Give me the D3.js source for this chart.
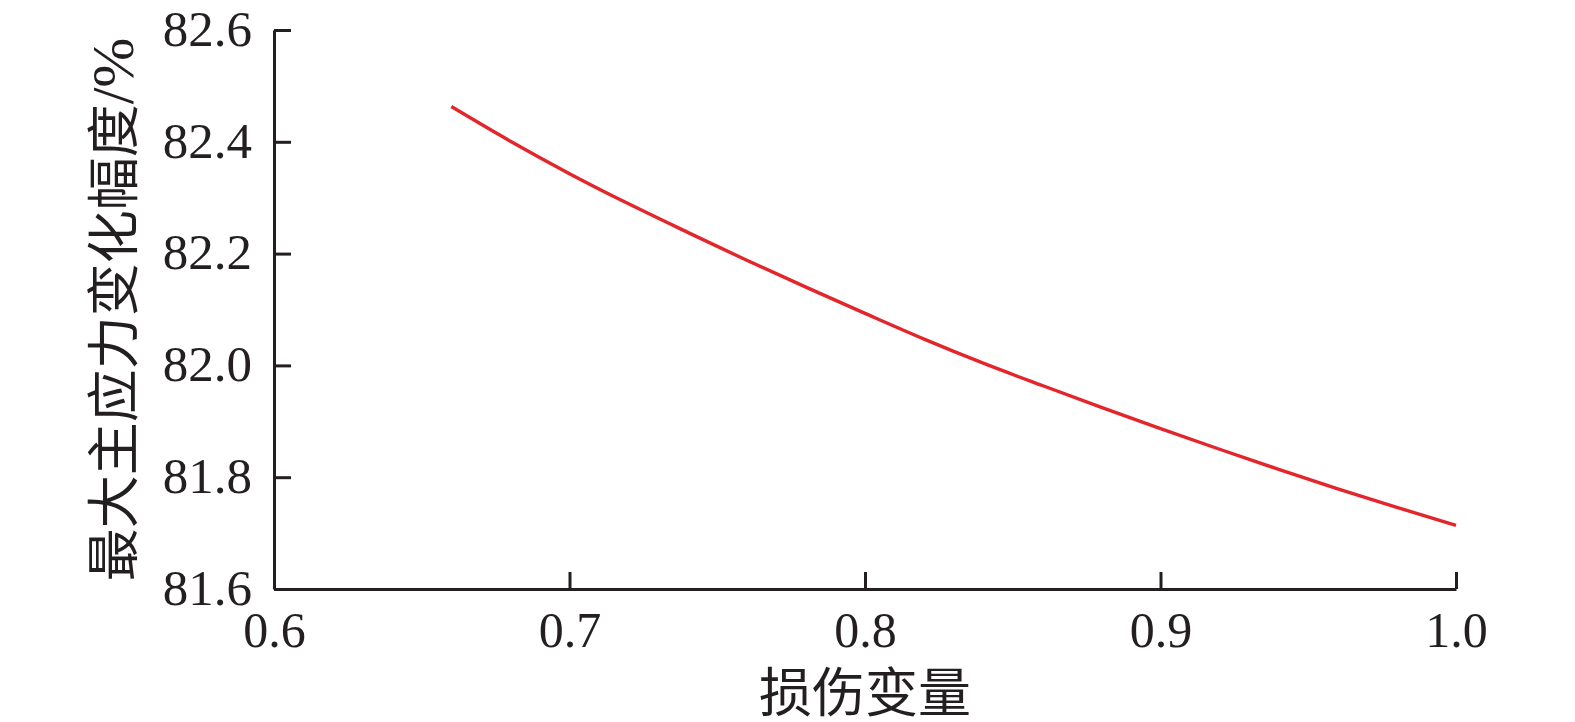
<!DOCTYPE html>
<html>
<head>
<meta charset="utf-8">
<script src="https://cdn.jsdelivr.net/npm/d3@7"></script>
<style>
  body { margin: 0; background: #fff; }
  svg text { fill: #231f20; }
</style>
</head>
<body>
<svg id="chart" width="1575" height="722"></svg>
<script>
// damage variable vs. change in max principal stress (%)
const damage = [0.66, 0.68, 0.70, 0.72, 0.74, 0.76, 0.78, 0.80, 0.82, 0.84,
                0.86, 0.88, 0.90, 0.92, 0.94, 0.96, 0.98, 1.00];
const stressChange = [82.463, 82.401, 82.343, 82.289, 82.238, 82.188, 82.140, 82.093, 82.047, 82.004,
                      81.964, 81.925, 81.887, 81.850, 81.814, 81.779, 81.746, 81.714];
const xTicks = [0.6, 0.7, 0.8, 0.9, 1.0];
const yTicks = [81.6, 81.8, 82.0, 82.2, 82.4, 82.6];

const xTitle = "损伤变量";
const yTitleCjk = "最大主应力变化幅度";
const yTitleUnit = "/%";

const margin = {top: 30, left: 274, right: 119, bottom: 133};
const width = 1575 - margin.left - margin.right;
const height = 722 - margin.top - margin.bottom;

const svg = d3.select("#chart");
const g = svg.append("g").attr("transform", `translate(${margin.left},${margin.top})`);

const x = d3.scaleLinear().domain([0.6, 1.0]).range([0, width]);
const y = d3.scaleLinear().domain([81.6, 82.6]).range([height, 0]);

const serif = "'Liberation Serif', 'Times New Roman', serif";
const font = "'Liberation Serif', 'Times New Roman', 'Noto Sans CJK SC', serif";

// x axis, ticks pointing inward
const xAxis = g.append("g")
    .attr("transform", `translate(0,${height})`)
    .call(d3.axisBottom(x).tickValues(xTicks).tickFormat(d3.format(".1f"))
        .tickSizeInner(-17).tickSizeOuter(0).tickPadding(0));
xAxis.select(".domain").attr("stroke", "#231f20").attr("stroke-width", 3);
xAxis.selectAll(".tick line").attr("stroke", "#231f20").attr("stroke-width", 3);
xAxis.selectAll(".tick text")
    .attr("y", 58).attr("dy", 0)
    .style("font-family", serif).style("font-size", "50px");

// y axis
const yAxis = g.append("g")
    .call(d3.axisLeft(y).tickValues(yTicks).tickFormat(d3.format(".1f"))
        .tickSizeInner(-17).tickSizeOuter(0).tickPadding(0));
yAxis.select(".domain").attr("stroke", "#231f20").attr("stroke-width", 3);
yAxis.selectAll(".tick line").attr("stroke", "#231f20").attr("stroke-width", 3);
yAxis.selectAll(".tick text")
    .attr("x", -22).attr("dy", "0.3em")
    .style("font-family", serif).style("font-size", "51px");

// curve
const line = d3.line()
    .x((d, i) => x(damage[i]))
    .y(d => y(d))
    .curve(d3.curveMonotoneX);

g.append("path")
    .datum(stressChange)
    .attr("d", line)
    .attr("fill", "none")
    .attr("stroke", "#e2262b")
    .attr("stroke-width", 3.4);

// titles
svg.append("text")
    .attr("x", margin.left + width / 2)
    .attr("y", 712)
    .attr("text-anchor", "middle")
    .style("font-family", font).style("font-size", "53px")
    .text(xTitle);

const yt = svg.append("text")
    .attr("transform", `translate(133,${margin.top + height / 2}) rotate(-90)`)
    .attr("text-anchor", "middle")
    .style("font-family", font).style("font-size", "53px");
yt.append("tspan").text(yTitleCjk);
yt.append("tspan").style("font-family", serif).style("font-size", "60px").text(yTitleUnit);
</script>
</body>
</html>
